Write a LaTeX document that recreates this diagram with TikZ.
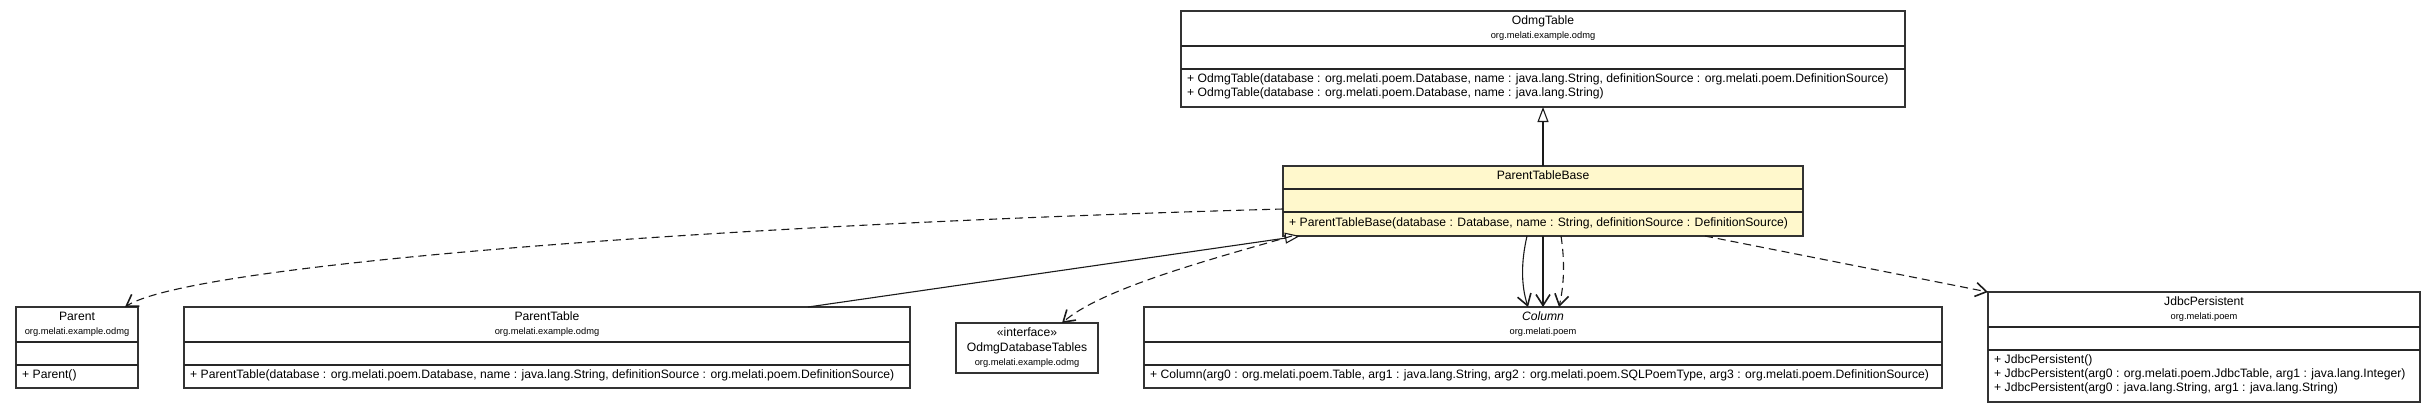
\documentclass[tikz,border=0pt]{standalone}
\usepackage{fontspec}
\setmainfont{Liberation Sans}
\usetikzlibrary{arrows.meta}
\definecolor{ptbfill}{HTML}{FFF8CC}
\definecolor{edgecol}{HTML}{1A1A1A}
\begin{document}
\begin{tikzpicture}[x=1pt,y=-1pt,
  cls/.style={draw=black!80, line width=1.1pt, anchor=north west, inner sep=0pt, outer sep=0pt, fill=white},
  sepl/.style={line width=1.6pt, draw=black!85},
  nm/.style={font=\fontsize{12.15}{14}\selectfont, inner sep=0pt, anchor=mid},
  pkg/.style={font=\fontsize{9.3}{11}\selectfont, inner sep=0pt, anchor=mid},
  mth/.style={font=\fontsize{12.15}{14}\selectfont, inner sep=0pt, anchor=mid west},
  deparrow/.style={draw=edgecol, line width=1.1pt, dash pattern=on 8pt off 5pt,
    -{Straight Barb[length=11pt,width=14pt,line width=1.6pt]}},
  assocarrow/.style={draw=edgecol, line width=1.1pt,
    -{Straight Barb[length=11pt,width=14pt,line width=1.6pt]}},
  genarrow/.style={draw=edgecol, line width=1.1pt,
    -{Triangle[open,length=15pt,width=11pt,line width=1.1pt,fill=white]}}
]
\useasboundingbox (0,0) rectangle (2435,413);

% ---------- OdmgTable ----------
\node[cls, minimum width=724pt, minimum height=96pt] (odmg) at (1181,11) {};
\draw[sepl] (odmg.west |- 0,46) -- (odmg.east |- 0,46);
\draw[sepl] (odmg.west |- 0,69) -- (odmg.east |- 0,69);
\node[nm] (odmgn) at (1543,22) {OdmgTable};
\node[pkg] (odmgp) at (1543,36) {org.melati.example.odmg};
\node[mth] (odmgm1) at (1187,80) {+ OdmgTable(database : org.melati.poem.Database, name : java.lang.String, definitionSource : org.melati.poem.DefinitionSource)};
\node[mth] (odmgm2) at (1187,94) {+ OdmgTable(database : org.melati.poem.Database, name : java.lang.String)};

% ---------- ParentTableBase ----------
\node[cls, fill=ptbfill, minimum width=520pt, minimum height=70pt] (ptb) at (1283,166) {};
\draw[sepl] (ptb.west |- 0,189) -- (ptb.east |- 0,189);
\draw[sepl] (ptb.west |- 0,212) -- (ptb.east |- 0,212);
\node[nm] (ptbn) at (1543,177) {ParentTableBase};
\node[mth] (ptbm1) at (1289,224) {+ ParentTableBase(database : Database, name : String, definitionSource : DefinitionSource)};

% ---------- Parent ----------
\node[cls, minimum width=122pt, minimum height=81pt] (parent) at (16,307) {};
\draw[sepl] (parent.west |- 0,342) -- (parent.east |- 0,342);
\draw[sepl] (parent.west |- 0,365) -- (parent.east |- 0,365);
\node[nm] (parentn) at (77,318) {Parent};
\node[pkg] (parentp) at (77,332) {org.melati.example.odmg};
\node[mth] (parentm1) at (22,376) {+ Parent()};

% ---------- ParentTable ----------
\node[cls, minimum width=726pt, minimum height=81pt] (ptable) at (184,307) {};
\draw[sepl] (ptable.west |- 0,342) -- (ptable.east |- 0,342);
\draw[sepl] (ptable.west |- 0,365) -- (ptable.east |- 0,365);
\node[nm] (ptablen) at (547,318) {ParentTable};
\node[pkg] (ptablep) at (547,332) {org.melati.example.odmg};
\node[mth] (ptablem1) at (190,376) {+ ParentTable(database : org.melati.poem.Database, name : java.lang.String, definitionSource : org.melati.poem.DefinitionSource)};

% ---------- OdmgDatabaseTables ----------
\node[cls, minimum width=142pt, minimum height=50pt] (odt) at (956,323) {};
\node[nm] (odts) at (1027,334) {«interface»};
\node[nm] (odtn) at (1027,349) {OdmgDatabaseTables};
\node[pkg] (odtp) at (1027,363) {org.melati.example.odmg};

% ---------- Column ----------
\node[cls, minimum width=798pt, minimum height=81pt] (col) at (1144,307) {};
\draw[sepl] (col.west |- 0,342) -- (col.east |- 0,342);
\draw[sepl] (col.west |- 0,365) -- (col.east |- 0,365);
\node[nm, font=\fontsize{12.15}{14}\selectfont\itshape] (coln) at (1543,318) {Column};
\node[pkg] (colp) at (1543,332) {org.melati.poem};
\node[mth] (colm1) at (1150,376) {+ Column(arg0 : org.melati.poem.Table, arg1 : java.lang.String, arg2 : org.melati.poem.SQLPoemType, arg3 : org.melati.poem.DefinitionSource)};

% ---------- JdbcPersistent ----------
\node[cls, minimum width=432pt, minimum height=110pt] (jdbc) at (1988,292) {};
\draw[sepl] (jdbc.west |- 0,327) -- (jdbc.east |- 0,327);
\draw[sepl] (jdbc.west |- 0,350) -- (jdbc.east |- 0,350);
\node[nm] (jdbcn) at (2204,303) {JdbcPersistent};
\node[pkg] (jdbcp) at (2204,317) {org.melati.poem};
\node[mth] (jdbcm1) at (1994,361) {+ JdbcPersistent()};
\node[mth] (jdbcm2) at (1994,375) {+ JdbcPersistent(arg0 : org.melati.poem.JdbcTable, arg1 : java.lang.Integer)};
\node[mth] (jdbcm3) at (1994,389) {+ JdbcPersistent(arg0 : java.lang.String, arg1 : java.lang.String)};

% ---------- connectors ----------
\draw[genarrow] (ptb.north) -- (odmg.south);
\draw[genarrow] ([xshift=261pt]ptable.north) -- ([xshift=17pt]ptb.south west);
\draw[deparrow] ([yshift=-8pt]ptb.west) .. controls (700,225) and (190,265) .. ([xshift=-13pt]parent.north east);
\draw[deparrow] ([xshift=9pt]ptb.south west) .. controls (1200,262) and (1100,290) .. ([xshift=35pt]odt.north);
\draw[assocarrow] ([xshift=-16pt]ptb.south) .. controls (1521,262) and (1521,285) .. ([xshift=-15pt]col.north);
\draw[assocarrow] (ptb.south) -- (col.north);
\draw[deparrow] ([xshift=18pt]ptb.south) .. controls (1565,262) and (1564,285) .. ([xshift=16pt]col.north);
\draw[deparrow] ([xshift=-98pt]ptb.south east) -- (jdbc.north west);
\end{tikzpicture}
\end{document}
